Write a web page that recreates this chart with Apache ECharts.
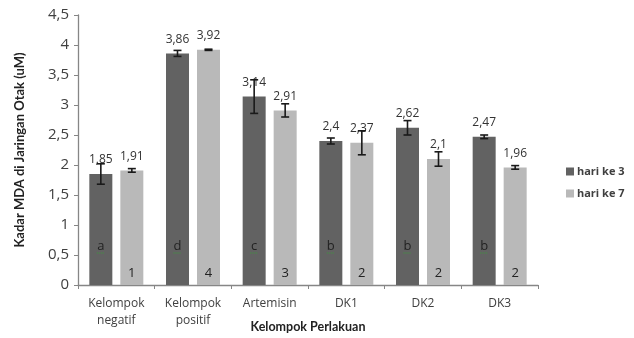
<!DOCTYPE html>
<html>
<head>
<meta charset="utf-8">
<script src="https://cdn.jsdelivr.net/npm/echarts@6/dist/echarts.min.js"></script>
<style>html,body{margin:0;padding:0;background:#fff}#c{width:634px;height:338px}</style>
</head>
<body>
<div id="c"></div>
<script>
// Kadar MDA jaringan otak per kelompok perlakuan
const categories = ['Kelompok\nnegatif', 'Kelompok\npositif', 'Artemisin', 'DK1', 'DK2', 'DK3'];
const day3 = [1.85, 3.86, 3.14, 2.4, 2.62, 2.47];
const day7 = [1.91, 3.92, 2.91, 2.37, 2.1, 1.96];
const err3 = [0.17, 0.05, 0.28, 0.05, 0.12, 0.03];
const err7 = [0.03, 0.01, 0.11, 0.2, 0.12, 0.03];
const letters3 = ['a', 'd', 'c', 'b', 'b', 'b'];
const letters7 = ['1', '4', '3', '2', '2', '2'];
const yTicks = [0, 0.5, 1, 1.5, 2, 2.5, 3, 3.5, 4, 4.5];

const FONT = 'Open Sans';
const TITLE_FONT = 'Lato';
const BAR_W = 23, BAR_GAP = 8;
const shift = (BAR_W + BAR_GAP) / 2;
const fmt = v => String(v).replace('.', ',');

function errorSeries(vals, errs, dir) {
  return {
    type: 'custom',
    z: 5,
    data: vals.map((v, i) => [i, v - errs[i], v + errs[i]]),
    renderItem: (params, api) => {
      const lo = api.coord([api.value(0), api.value(1)]);
      const hi = api.coord([api.value(0), api.value(2)]);
      const x = lo[0] + dir * shift;
      const cap = 4;
      const st = { stroke: '#1a1a1a', lineWidth: 1.6 };
      return {
        type: 'group',
        children: [
          { type: 'line', shape: { x1: x, y1: hi[1], x2: x, y2: lo[1] }, style: st },
          { type: 'line', shape: { x1: x - cap, y1: hi[1], x2: x + cap, y2: hi[1] }, style: st },
          { type: 'line', shape: { x1: x - cap, y1: lo[1], x2: x + cap, y2: lo[1] }, style: st }
        ]
      };
    }
  };
}

function letterSeries(marks, level, dir, squiggle) {
  return {
    type: 'custom',
    z: 6,
    data: marks.map((m, i) => [i, level, m]),
    renderItem: (params, api) => {
      const p = api.coord([api.value(0), api.value(1)]);
      const x = p[0] + dir * shift;
      const children = [{
        type: 'text',
        style: {
          x: x, y: p[1], text: marks[params.dataIndex],
          fill: '#222', font: '13px ' + FONT, align: 'center', verticalAlign: 'middle'
        }
      }];
      if (squiggle) {
        children.push({ type: 'line', shape: { x1: x - 4, y1: p[1] + 7, x2: x + 4, y2: p[1] + 7 },
          style: { stroke: '#3c9a3c', lineWidth: 1, lineDash: [1, 1] } });
      }
      return { type: 'group', children };
    }
  };
}

const chart = echarts.init(document.getElementById('c'), null, { renderer: 'canvas' });
chart.setOption({
  animation: false,
  textStyle: { fontFamily: FONT },
  grid: { left: 78, right: 96, top: 15, bottom: 53, containLabel: false, outerBoundsMode: 'none' },
  legend: {
    orient: 'vertical',
    left: 561, top: 161,
    itemWidth: 8, itemHeight: 8, itemGap: 11,
    icon: 'rect',
    textStyle: { fontFamily: FONT, fontSize: 11, fontWeight: 'bold', color: '#404040', padding: [0, 0, 0, -2] },
    data: ['hari ke 3', 'hari ke 7']
  },
  xAxis: {
    type: 'category',
    data: categories,
    name: 'Kelompok Perlakuan',
    nameLocation: 'middle',
    nameGap: 35,
    nameMoveOverlap: false,
    nameTextStyle: { fontFamily: TITLE_FONT, fontSize: 12.5, fontWeight: 'bold', color: '#222' },
    axisLine: { lineStyle: { color: '#868686', width: 1.3 } },
    axisTick: { show: true, length: 4, alignWithLabel: false, lineStyle: { color: '#868686' } },
    axisLabel: { fontFamily: FONT, fontSize: 12, color: '#404040', lineHeight: 17, margin: 10 }
  },
  yAxis: {
    type: 'value',
    min: yTicks[0], max: yTicks[yTicks.length - 1], interval: 0.5,
    name: 'Kadar MDA di Jaringan Otak (uM)',
    nameLocation: 'middle',
    nameGap: 52,
    nameMoveOverlap: false,
    nameTextStyle: { fontFamily: TITLE_FONT, fontSize: 13, fontWeight: 'bold', color: '#222' },
    splitLine: { show: false },
    axisLine: { show: true, lineStyle: { color: '#868686', width: 1.3 } },
    axisTick: { show: true, length: 4, lineStyle: { color: '#868686' } },
    axisLabel: { fontFamily: FONT, fontSize: 15, color: '#404040', margin: 9, formatter: v => fmt(v) }
  },
  series: [
    {
      name: 'hari ke 3', type: 'bar', data: day3, barWidth: BAR_W, barGap: (BAR_GAP / BAR_W * 100) + '%',
      itemStyle: { color: '#626262' },
      label: { show: true, position: 'top', distance: 8, formatter: p => fmt(p.value),
        fontFamily: FONT, fontSize: 12, color: '#333' }
    },
    {
      name: 'hari ke 7', type: 'bar', data: day7, barWidth: BAR_W,
      itemStyle: { color: '#b9b9b9' },
      label: { show: true, position: 'top', distance: 8, formatter: p => fmt(p.value),
        fontFamily: FONT, fontSize: 12, color: '#333' }
    },
    errorSeries(day3, err3, -1),
    errorSeries(day7, err7, 1),
    letterSeries(letters3, 0.65, -1, true),
    letterSeries(letters7, 0.2, 1, false)
  ]
});
</script>
</body>
</html>
